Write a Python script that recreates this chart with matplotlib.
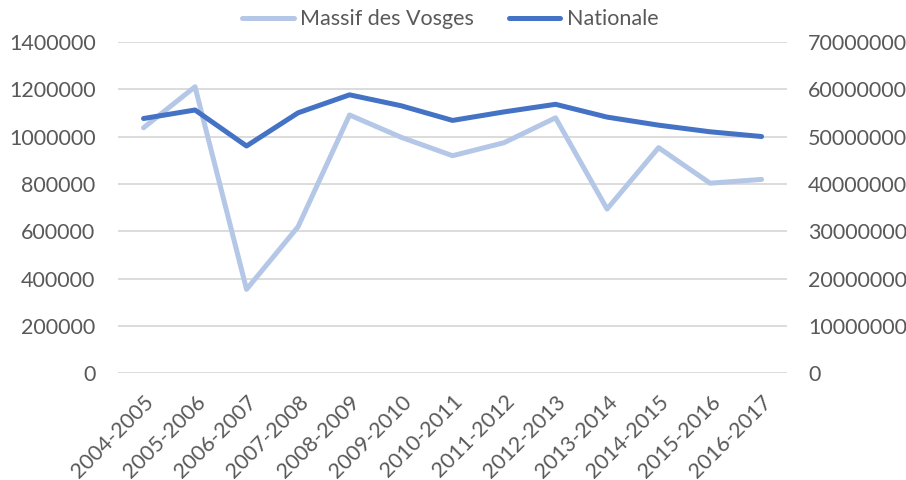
import matplotlib.pyplot as plt

# Saisons et valeurs
seasons = ['2004-2005', '2005-2006', '2006-2007', '2007-2008', '2008-2009',
           '2009-2010', '2010-2011', '2011-2012', '2012-2013', '2013-2014',
           '2014-2015', '2015-2016', '2016-2017']
vosges = [1037000, 1210000, 355000, 619000, 1091000, 997000, 919000,
          974000, 1079000, 694000, 953000, 803000, 819000]
nationale = [53800000, 55600000, 48000000, 55000000, 58800000, 56500000,
             53400000, 55200000, 56800000, 54100000, 52400000, 51000000,
             50000000]

left_ticks = [0, 200000, 400000, 600000, 800000, 1000000, 1200000, 1400000]
right_ticks = [0, 10000000, 20000000, 30000000, 40000000, 50000000,
               60000000, 70000000]

plt.rcParams['font.family'] = ['Lato', 'DejaVu Sans']
text_color = '#595959'

fig = plt.figure(figsize=(9.06, 4.8), dpi=100)
ax = fig.add_axes([0.130, 0.222, 0.739, 0.691])
ax2 = ax.twinx()

x = range(len(seasons))
l1, = ax.plot(x, vosges, color='#B4C7E7', lw=3.6, solid_joinstyle='round',
              solid_capstyle='round', label='Massif des Vosges', zorder=3)
l2, = ax2.plot(x, nationale, color='#4472C4', lw=3.6, solid_joinstyle='round',
               solid_capstyle='round', label='Nationale', zorder=3)

ax.set_xlim(-0.5, len(seasons) - 0.5)
ax.set_ylim(0, 1400000)
ax2.set_ylim(0, 70000000)
ax.set_yticks(left_ticks)
ax.set_yticklabels([str(v) for v in left_ticks])
ax2.set_yticks(right_ticks)
ax2.set_yticklabels([str(v) for v in right_ticks])
ax.set_xticks(list(x))
ax.set_xticklabels(seasons, rotation=45, ha='right', rotation_mode='anchor')

ax.grid(axis='y', color='#D9D9D9', lw=1.3)
ax.set_axisbelow(True)
for a in (ax, ax2):
    for s in a.spines.values():
        s.set_visible(False)
ax.tick_params(axis='y', length=0, pad=16, labelsize=15.5, labelcolor=text_color)
ax2.tick_params(axis='y', length=0, pad=15, labelsize=15.5, labelcolor=text_color)
ax.tick_params(axis='x', length=0, pad=13, labelsize=15.5, labelcolor=text_color)

fig.legend(handles=[l1, l2], loc='center', bbox_to_anchor=(0.497, 0.96),
           ncol=2, frameon=False, fontsize=15.5, labelcolor=text_color,
           handlelength=2.4, handletextpad=0.3, columnspacing=1.6)

fig.savefig('out.png', dpi=100)
